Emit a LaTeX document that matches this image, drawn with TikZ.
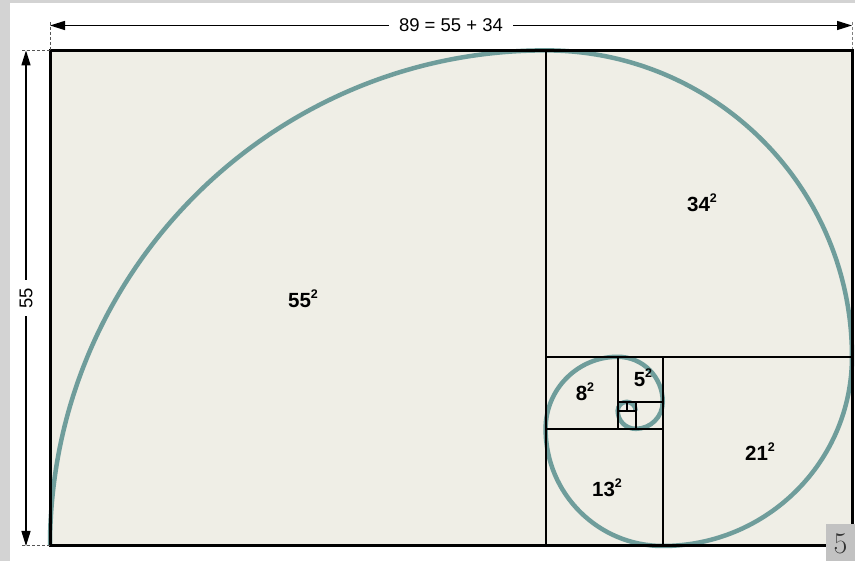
\documentclass[tikz,border=0pt]{standalone}
\usepackage{fontspec}
\setmainfont{Liberation Sans}
\usetikzlibrary{arrows.meta}
\definecolor{bggray}{HTML}{D3D3D3}
\definecolor{beige}{HTML}{EFEEE6}
\definecolor{spiral}{HTML}{6F9D9B}
\definecolor{dashgray}{HTML}{555555}
\newcommand\fibsq[1]{#1\raisebox{0.45em}{\fontsize{12.5}{13}\selectfont 2}}
\tikzset{
  outer/.style={line width=3pt},
  inner/.style={line width=2pt},
  spiralline/.style={line width=4.5pt, color=spiral},
  dimarrow/.style={line width=1.4pt, {Triangle[length=15pt,width=9pt]}-{Triangle[length=15pt,width=9pt]}},
  extline/.style={line width=1pt, color=dashgray, dash pattern=on 3pt off 2pt},
  dimlabel/.style={fill=white, inner xsep=10pt, inner ysep=2pt, font=\fontsize{18.5}{20}\selectfont},
  sqlabel/.style={inner sep=0pt, font=\fontsize{20.5}{22}\selectfont\bfseries}
}
\begin{document}
\begin{tikzpicture}[x=1pt,y=1pt]
\useasboundingbox (0,0) rectangle (855,561);
% background
\fill[bggray] (0,0) rectangle (855,561);
\fill[white] (10,0) rectangle (855,558);
% main rectangle
\coordinate (BL) at (50,15);
\coordinate (TR) at (852,510.6);
\fill[beige] (BL) rectangle (TR);
\begin{scope}[shift={(50,15)}, x=9.011pt, y=9.011pt]
  % spiral
  \draw[spiralline] (0,0)
    arc[start angle=180, delta angle=-90, radius=55]
    arc[start angle=90, delta angle=-90, radius=34]
    arc[start angle=0, delta angle=-90, radius=21]
    arc[start angle=-90, delta angle=-90, radius=13]
    arc[start angle=180, delta angle=-90, radius=8]
    arc[start angle=90, delta angle=-90, radius=5]
    arc[start angle=0, delta angle=-90, radius=3]
    arc[start angle=-90, delta angle=-90, radius=2]
    arc[start angle=180, delta angle=-90, radius=1]
    arc[start angle=90, delta angle=-90, radius=1];
  % square divisions
  \draw[inner] (55,0) -- (55,55);
  \draw[inner] (55,21) -- (89,21);
  \draw[inner] (68,0) -- (68,21);
  \draw[inner] (55,13) -- (68,13);
  \draw[inner] (63,13) -- (63,21);
  \draw[inner] (63,16) -- (68,16);
  \draw[inner] (65,13) -- (65,16);
  \draw[inner] (63,15) -- (65,15);
  \draw[inner] (64,15) -- (64,16);
\end{scope}
\draw[outer] (BL) rectangle (TR);
% labels
\node[sqlabel] (l55) at (303,262) {\fibsq{55}};
\node[sqlabel] (l34) at (702,358) {\fibsq{34}};
\node[sqlabel] (l21) at (760,109) {\fibsq{21}};
\node[sqlabel] (l13) at (607,73) {\fibsq{13}};
\node[sqlabel] (l8) at (585,169) {\fibsq{8}};
\node[sqlabel] (l5) at (643,183) {\fibsq{5}};
% dimension lines
\coordinate (topL) at (50,535.5);
\coordinate (topR) at (852,535.5);
\coordinate (topLx) at (50,539);
\coordinate (topRx) at (852,539);
\coordinate (TL) at (50,510.6);
\draw[extline] (topLx) -- (TL);
\draw[extline, color=gray] (topRx) -- (852,512);
\draw[dimarrow] (topL) -- node[dimlabel] (toplabel) {89 = 55 + 34} (topR);
\coordinate (leftB) at (26,15);
\coordinate (leftT) at (26,510.6);
\coordinate (leftBx) at (22,15);
\coordinate (leftTx) at (22,510.6);
\draw[extline] (leftTx) -- (TL);
\draw[extline] (leftBx) -- (BL);
\draw[dimarrow] (leftB) -- node[dimlabel, rotate=90, inner xsep=8pt] (leftlabel) {55} (leftT);
% page number box
\fill[bggray!92!black] (826,0) rectangle (855,37);
\node[inner sep=0pt, text=black!80] (pagenum) at (840.5,17) {\fontfamily{lmr}\selectfont\fontsize{30}{32}\selectfont 5};
\end{tikzpicture}
\end{document}
